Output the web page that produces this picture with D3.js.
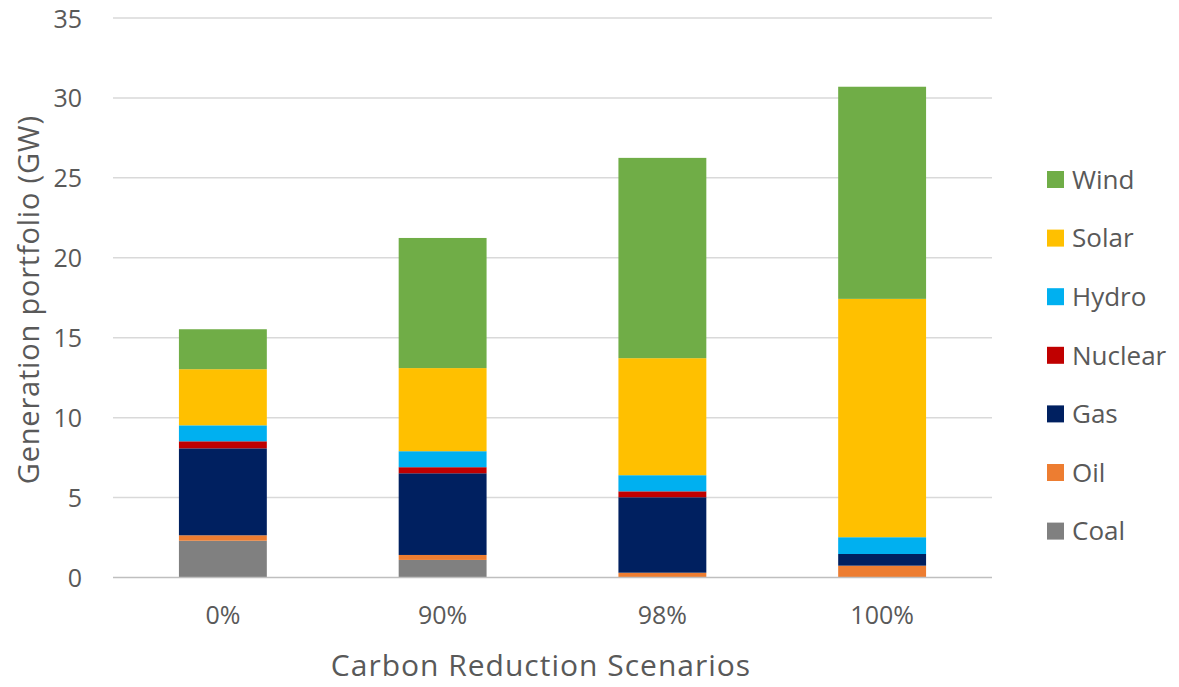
<!DOCTYPE html>
<html>
<head>
<meta charset="utf-8">
<script src="https://cdn.jsdelivr.net/npm/d3@7"></script>
<style>
  html, body { margin: 0; padding: 0; background: #fff; }
  svg { display: block; font-family: "Open Sans", "Noto Sans", sans-serif; }
</style>
</head>
<body>
<svg id="chart" width="1179" height="687"></svg>
<script>
// Scenarios (x categories)
const scenarios = ["0%", "90%", "98%", "100%"];

// Generation sources, stacked bottom to top
const sources = ["Coal", "Oil", "Gas", "Nuclear", "Hydro", "Solar", "Wind"];

// Capacity per source for each scenario (GW)
const coal    = [2.30, 1.10, 0.00, 0.00];
const oil     = [0.34, 0.31, 0.30, 0.74];
const gas     = [5.44, 5.11, 4.72, 0.73];
const nuclear = [0.44, 0.38, 0.37, 0.00];
const hydro   = [1.00, 1.00, 1.01, 1.05];
const solar   = [3.51, 5.20, 7.32, 14.91];
const wind    = [2.50, 8.14, 12.53, 13.27];

const yTicks = [0, 5, 10, 15, 20, 25, 30, 35];

const colors = {
  Coal: "#808080", Oil: "#ED7D31", Gas: "#002060", Nuclear: "#C00000",
  Hydro: "#00B0F0", Solar: "#FFC000", Wind: "#70AD47"
};

const seriesValues = { Coal: coal, Oil: oil, Gas: gas, Nuclear: nuclear, Hydro: hydro, Solar: solar, Wind: wind };
const table = scenarios.map((s, i) => {
  const row = { scenario: s };
  sources.forEach(k => row[k] = seriesValues[k][i]);
  return row;
});

const svg = d3.select("#chart");
const plot = { left: 113, right: 992, top: 18, bottom: 577.5 };
const textColor = "#595959";

const x = d3.scaleBand().domain(scenarios).range([plot.left, plot.right]).paddingInner(0.6).paddingOuter(0.3);
const y = d3.scaleLinear().domain([0, 35]).range([plot.bottom, plot.top]);

// Horizontal gridlines
svg.append("g").selectAll("line").data(yTicks.filter(t => t > 0)).join("line")
  .attr("x1", plot.left).attr("x2", plot.right)
  .attr("y1", d => y(d)).attr("y2", d => y(d))
  .attr("stroke", "#d9d9d9").attr("stroke-width", 1.5);

// Y axis labels
const yAxis = svg.append("g").attr("transform", `translate(${plot.left},0)`)
  .call(d3.axisLeft(y).tickValues(yTicks).tickSize(0).tickPadding(31));
yAxis.select(".domain").remove();
yAxis.selectAll("text").attr("fill", textColor).attr("font-size", 25)
  .attr("font-family", "Open Sans, sans-serif").attr("dy", "0.36em");

// Stacked bars
const stack = d3.stack().keys(sources)(table);
svg.append("g").selectAll("g").data(stack).join("g")
  .attr("fill", d => colors[d.key])
  .selectAll("rect").data(d => d).join("rect")
  .attr("x", d => x(d.data.scenario))
  .attr("width", x.bandwidth())
  .attr("y", d => y(d[1]))
  .attr("height", d => y(d[0]) - y(d[1]));

// Baseline
svg.append("line").attr("x1", plot.left).attr("x2", plot.right)
  .attr("y1", y(0)).attr("y2", y(0))
  .attr("stroke", "#bfbfbf").attr("stroke-width", 1.5);

// X axis labels
const xAxis = svg.append("g").attr("transform", `translate(0,${plot.bottom})`)
  .call(d3.axisBottom(x).tickSize(0).tickPadding(29));
xAxis.select(".domain").remove();
xAxis.selectAll("text").attr("fill", textColor).attr("font-size", 25)
  .attr("font-family", "Open Sans, sans-serif").attr("dy", "0.71em");

// Axis titles
svg.append("text")
  .attr("x", 541).attr("y", 676)
  .attr("text-anchor", "middle").attr("fill", textColor).attr("font-size", 30)
  .attr("letter-spacing", 1)
  .text("Carbon Reduction Scenarios");

svg.append("text")
  .attr("transform", `translate(29,${(plot.top + plot.bottom) / 2 + 2}) rotate(-90)`)
  .attr("text-anchor", "middle").attr("dy", "0.35em").attr("fill", textColor).attr("font-size", 29)
  .attr("letter-spacing", 0.8)
  .text("Generation portfolio (GW)");

// Legend, top to bottom: Wind ... Coal
const legendItems = sources.slice().reverse();
const legend = svg.append("g").selectAll("g").data(legendItems).join("g")
  .attr("transform", (d, i) => `translate(1047,${179.5 + i * 58.6})`);
legend.append("rect").attr("x", 0).attr("y", -8.5).attr("width", 17).attr("height", 17)
  .attr("fill", d => colors[d]);
legend.append("text").attr("x", 25).attr("dy", "0.36em")
  .attr("fill", textColor).attr("font-size", 26).text(d => d);
</script>
</body>
</html>
